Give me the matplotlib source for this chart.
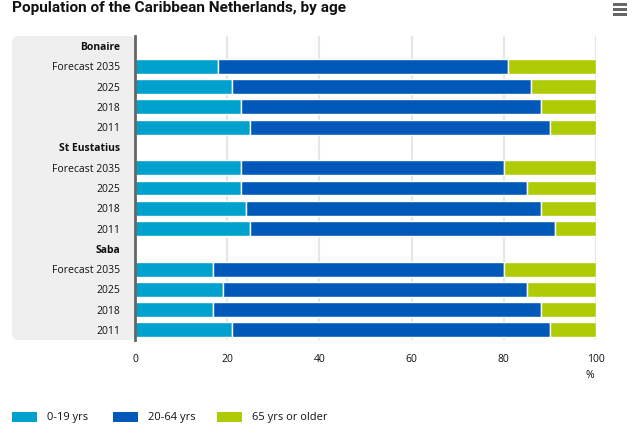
import matplotlib
matplotlib.use("Agg")
import matplotlib.pyplot as plt
from matplotlib.patches import FancyBboxPatch, Rectangle
from matplotlib import font_manager
import numpy as np

regions = ["Bonaire", "St Eustatius", "Saba"]
years = ["Forecast 2035", "2025", "2018", "2011"]
series = ["0-19 yrs", "20-64 yrs", "65 yrs or older"]
colors = ["#00a1cd", "#0058b8", "#afcb05"]

young = {"Bonaire": [18, 21, 23, 25], "St Eustatius": [23, 23, 24, 25], "Saba": [17, 19, 17, 21]}
mid = {"Bonaire": [63, 65, 65, 65], "St Eustatius": [57, 62, 64, 66], "Saba": [63, 66, 71, 69]}
old = {"Bonaire": [19, 14, 12, 10], "St Eustatius": [20, 15, 12, 9], "Saba": [20, 15, 12, 10]}
xticks = [0, 20, 40, 60, 80, 100]

names = {f.name for f in font_manager.fontManager.ttflist}
title_fam = ["Liberation Sans Narrow"] if "Liberation Sans Narrow" in names else ["Roboto", "DejaVu Sans"]

W, H = 643, 440
fig = plt.figure(figsize=(W / 100, H / 100), dpi=100)
plt.rcParams['font.family'] = ['Open Sans', 'DejaVu Sans']

x0, x1, y0, y1 = 135, 596, 36, 340
band = FancyBboxPatch((12 / W, 1 - y1 / H), (x0 - 12) / W, (y1 - y0) / H,
                      boxstyle="round,pad=0,rounding_size=0.012", transform=fig.transFigure,
                      facecolor="#efefef", edgecolor="none", zorder=-5)
fig.patches.append(band)

ax = fig.add_axes([x0 / W, 1 - y1 / H, (x1 - x0) / W, (y1 - y0) / H])
ax.set_facecolor("none")

labels = []
bold = []
pos = 0
for r in regions:
    labels.append(r); bold.append(True); pos += 1
    for i, yr in enumerate(years):
        vals = [young[r][i], mid[r][i], old[r][i]]
        left = 0
        for v, c in zip(vals, colors):
            ax.barh(pos, v, left=left, height=0.74, color=c, edgecolor="white", linewidth=1, zorder=3)
            left += v
        labels.append(yr); bold.append(False); pos += 1

n = len(labels)
ax.set_ylim(n - 0.5, -0.5)
ax.set_xlim(0, 100)
ax.set_yticks(range(n))
ax.set_yticklabels(labels, fontsize=7.5, color="#111111")
for t, b in zip(ax.get_yticklabels(), bold):
    if b:
        t.set_fontweight("bold")
ax.tick_params(axis="y", length=0, pad=10.5)
ax.set_xticks(xticks)
ax.set_xticklabels([str(v) for v in xticks], fontsize=7.5, color="#111111")
ax.tick_params(axis="x", length=0, pad=10)
for v in xticks[1:]:
    ax.axvline(v, color="#e6e6e6", linewidth=1.5, zorder=1)
for s in ["top", "right", "bottom"]:
    ax.spines[s].set_visible(False)
ax.spines["left"].set_color("#666666")
ax.spines["left"].set_linewidth(2)
ax.spines["left"].set_zorder(4)

fig.text(590 / W, 1 - 376 / H, "%", fontsize=7.5, color="#111111", ha="center", va="center")

title = fig.text(12 / W, 1 - 8 / H, "Population of the Caribbean Netherlands, by age",
                 fontsize=13, fontweight="bold", color="#111111", ha="left", va="center",
                 family=title_fam)
fig.canvas.draw()
r = fig.canvas.get_renderer()
w = title.get_window_extent(r).width
title.set_fontsize(min(14, 13 * 335 / w))

for yy in [5, 10, 15]:
    fig.patches.append(Rectangle((613 / W, 1 - (yy + 1.5) / H), 14 / W, 3 / H,
                                 transform=fig.transFigure, facecolor="#666666", edgecolor="none"))

leg_x = [12, 113, 217]
for lx, s, c in zip(leg_x, series, colors):
    fig.patches.append(Rectangle((lx / W, 1 - 422 / H), 25 / W, 10 / H,
                                 transform=fig.transFigure, facecolor=c, edgecolor="none"))
    fig.text((lx + 35) / W, 1 - 417 / H, s, fontsize=8, color="#111111", ha="left", va="center")

fig.savefig("out.png", dpi=100)
